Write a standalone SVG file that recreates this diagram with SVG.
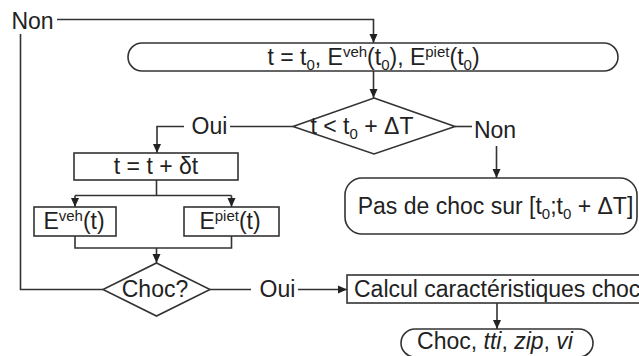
<svg xmlns="http://www.w3.org/2000/svg" width="639" height="356" viewBox="0 0 639 356">
<style>
.s{fill:none;stroke:#333;stroke-width:1.6}
.n{fill:#fff;stroke:#333;stroke-width:1.6}
text{font-family:"Liberation Sans",Arial,sans-serif;font-size:23px;fill:#222}
.m{text-anchor:middle}
.sm{font-size:15px}
</style>
<defs>
<marker id="a" markerUnits="userSpaceOnUse" markerWidth="10" markerHeight="10" refX="9" refY="5" orient="auto">
<path d="M0,1 L9,5 L0,9 Z" fill="#222"/>
</marker>
</defs>
<rect width="639" height="356" fill="#fff"/>
<g id="connectors">
<path class="s" d="M103,289.5 H20.5 V34"/>
<path class="s" d="M57,19.5 H373.5 V43" marker-end="url(#a)"/>
<path class="s" d="M373.5,71 V98" marker-end="url(#a)"/>
<path class="s" d="M455,126.5 H472"/>
<path class="s" d="M496.5,146 V178" marker-end="url(#a)"/>
<path class="s" d="M293,126.5 H230"/>
<path class="s" d="M184,126.5 H157 V153" marker-end="url(#a)"/>
<path class="s" d="M156.5,180 V195.5"/>
<path class="s" d="M75,195.5 H231.5"/>
<path class="s" d="M75,195.5 V207" marker-end="url(#a)"/>
<path class="s" d="M231.5,195.5 V207" marker-end="url(#a)"/>
<path class="s" d="M75,236 V248 H231.5 V236"/>
<path class="s" d="M156.5,248 V263" marker-end="url(#a)"/>
<path class="s" d="M210,289.5 H251"/>
<path class="s" d="M298,289.5 H347" marker-end="url(#a)"/>
<path class="s" d="M497,303 V329" marker-end="url(#a)"/>
<text x="32.5" y="29" class="m">Non</text>
<text x="209.5" y="134" class="m">Oui</text>
<text x="495" y="138" class="m">Non</text>
<text x="277.5" y="297" class="m">Oui</text>
</g>
<g id="init">
<rect class="n" x="128" y="43" width="490" height="28" rx="14" ry="14"/>
<text x="373.5" y="65" class="m">t = t<tspan class="sm" dy="5">0</tspan><tspan dy="-5">, E</tspan><tspan class="sm" dy="-8">veh</tspan><tspan dy="8">(t</tspan><tspan class="sm" dy="5">0</tspan><tspan dy="-5">), E</tspan><tspan class="sm" dy="-8">piet</tspan><tspan dy="8">(t</tspan><tspan class="sm" dy="5">0</tspan><tspan dy="-5">)</tspan></text>
</g>
<g id="test-time">
<polygon class="n" points="374,98 455,126.5 374,154 293,126.5"/>
<text x="362" y="134" class="m">t &lt; t<tspan class="sm" dy="5">0</tspan><tspan dy="-5"> + ΔT</tspan></text>
</g>
<g id="no-collision">
<rect class="n" x="345" y="178" width="292" height="56" rx="17" ry="17"/>
<text x="495.5" y="214" class="m">Pas de choc sur [t<tspan class="sm" dy="5">0</tspan><tspan dy="-5">;t</tspan><tspan class="sm" dy="5">0</tspan><tspan dy="-5"> + ΔT]</tspan></text>
</g>
<g id="step">
<rect class="n" x="74" y="153" width="164" height="27"/>
<text x="156" y="174" class="m">t = t + δt</text>
</g>
<g id="veh">
<rect class="n" x="34" y="207" width="82" height="29"/>
<text x="74" y="229" class="m">E<tspan class="sm" dy="-8">veh</tspan><tspan dy="8">(t)</tspan></text>
</g>
<g id="piet">
<rect class="n" x="184" y="207" width="95" height="29"/>
<text x="230" y="229" class="m">E<tspan class="sm" dy="-8">piet</tspan><tspan dy="8">(t)</tspan></text>
</g>
<g id="choc-test">
<polygon class="n" points="156.5,263 210,289.5 156.5,316 103,289.5"/>
<text x="155" y="297" class="m">Choc?</text>
</g>
<g id="calcul">
<rect class="n" x="347" y="275" width="295" height="28"/>
<text x="354" y="297">Calcul caractéristiques choc</text>
</g>
<g id="result">
<rect class="n" x="401" y="329" width="192" height="28" rx="14" ry="14"/>
<text x="495" y="349" class="m">Choc, <tspan font-style="italic">tti</tspan>, <tspan font-style="italic">zip</tspan>, <tspan font-style="italic">vi</tspan></text>
</g>
</svg>
